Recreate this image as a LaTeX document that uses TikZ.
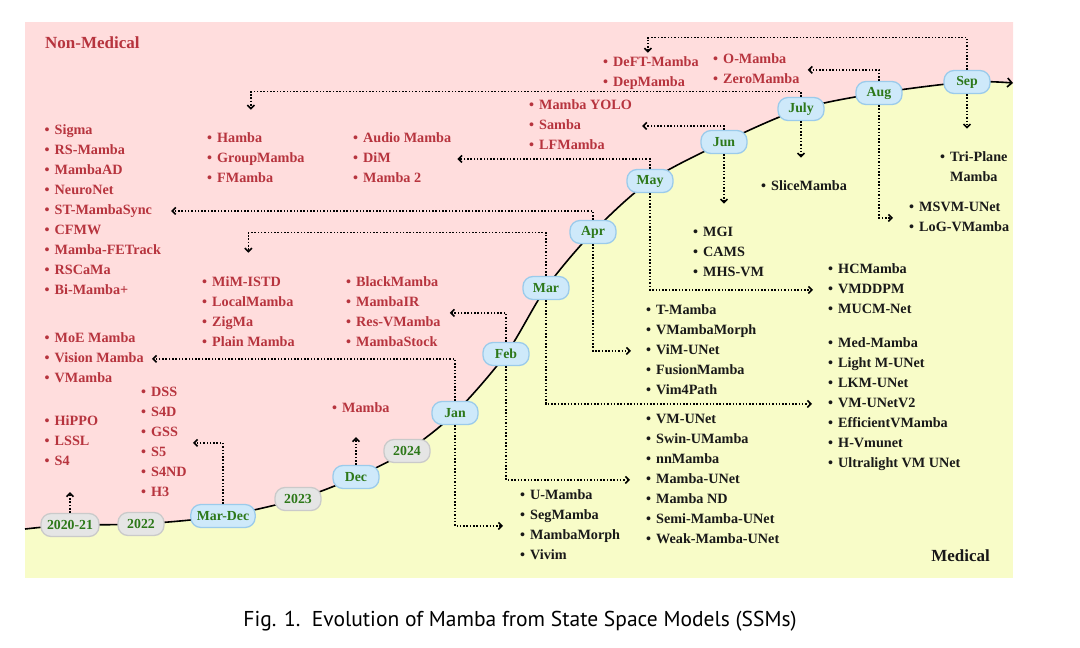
\documentclass[tikz,border=0pt]{standalone}
\usepackage{fontspec}
\setmainfont{Liberation Serif}
\newfontfamily\capfont{PT Sans}
\usetikzlibrary{arrows.meta}

\definecolor{pinkbg}{RGB}{255,221,221}
\definecolor{yellowbg}{RGB}{248,252,200}
\definecolor{nonmed}{RGB}{183,52,62}
\definecolor{medtxt}{RGB}{25,25,25}
\definecolor{monthtxt}{RGB}{45,120,25}
\definecolor{monthfill}{RGB}{206,233,250}
\definecolor{monthedge}{RGB}{155,203,235}
\definecolor{yearfill}{RGB}{229,229,229}
\definecolor{yearedge}{RGB}{202,202,202}

\newcommand{\itm}[1]{\strut\makebox[10pt][l]{\textbullet}#1}

\tikzset{
  pill/.style={rounded corners=10pt, minimum width=46pt, minimum height=23pt, inner xsep=6pt,
    line width=1.3pt, font=\bfseries\fontsize{13.8}{16}\selectfont, text=monthtxt},
  monthpill/.style={pill, fill=monthfill, draw=monthedge},
  yearpill/.style={pill, fill=yearfill, draw=yearedge},
  modellist/.style={anchor=north west, inner sep=0pt, align=left, font=\bfseries\fontsize{14.2}{20}\selectfont},
  nmlist/.style={modellist, text=nonmed},
  mdlist/.style={modellist, text=medtxt},
  conn/.style={line width=1.5pt, dash pattern=on 1.5pt off 1.8pt, -{Straight Barb[length=3.5pt,width=7pt,line width=1.6pt]}},
}

\begin{document}
\begin{tikzpicture}[x=1pt,y=-1pt]
\useasboundingbox (0,0) rectangle (1080,648);

% --- points of the timeline
\coordinate (c0) at (25,529);
\coordinate (p2021) at (70,525);
\coordinate (p2022) at (141,524);
\coordinate (pMarDec) at (223,516);
\coordinate (p2023) at (298,499);
\coordinate (pDec) at (356,477);
\coordinate (p2024) at (407,451);
\coordinate (pJan) at (455,413);
\coordinate (pFeb) at (506,354);
\coordinate (pMar) at (546,288);
\coordinate (pApr) at (593,232);
\coordinate (pMay) at (650,181);
\coordinate (pJun) at (724,142);
\coordinate (pJul) at (801,109);
\coordinate (pAug) at (879,93);
\coordinate (pSep) at (967,82);
\coordinate (cEnd) at (1013,83);

\fill[yellowbg] (25,22) rectangle (1013,578); % medical side
\fill[pinkbg] (25,22) -- plot[smooth] coordinates {(c0) (p2021) (p2022) (pMarDec) (p2023) (pDec) (p2024) (pJan) (pFeb) (pMar) (pApr) (pMay) (pJun) (pJul) (pAug) (pSep) (cEnd)} -- (1013,22) -- cycle; % non-medical side
\draw[line width=1.6pt,-{Straight Barb[length=4.5pt,width=9pt,line width=1.6pt]}] plot[smooth] coordinates {(c0) (p2021) (p2022) (pMarDec) (p2023) (pDec) (p2024) (pJan) (pFeb) (pMar) (pApr) (pMay) (pJun) (pJul) (pAug) (pSep) (cEnd)}; % --- timeline

% --- years and months
\node[yearpill] (t2021) at (p2021) {2020-21};
\node[yearpill] (t2022) at (p2022) {2022};
\node[monthpill] (mardec) at (pMarDec) {Mar-Dec};
\node[yearpill] (t2023) at (p2023) {2023};
\node[monthpill] (dec) at (pDec) {Dec};
\node[yearpill] (t2024) at (p2024) {2024};
\node[monthpill] (jan) at (pJan) {Jan};
\node[monthpill] (feb) at (pFeb) {Feb};
\node[monthpill] (mar) at (pMar) {Mar};
\node[monthpill] (apr) at (pApr) {Apr};
\node[monthpill] (may) at (pMay) {May};
\node[monthpill] (jun) at (pJun) {Jun};
\node[monthpill] (jul) at (pJul) {July};
\node[monthpill] (aug) at (pAug) {Aug};
\node[monthpill] (sep) at (pSep) {Sep};

% --- area titles
\node[anchor=west,inner sep=0pt,font=\bfseries\fontsize{17}{20}\selectfont,text=nonmed] (nmtitle) at (45,43) {Non-Medical};
\node[anchor=east,inner sep=0pt,font=\bfseries\fontsize{17}{20}\selectfont,text=medtxt] (mdtitle) at (990,556) {Medical};

% --- non-medical models
\node[nmlist] (hippo) at (44.5,411.7) {\itm{HiPPO}\\\itm{LSSL}\\\itm{S4}};
\node[nmlist] (ssm) at (141,382.7) {\itm{DSS}\\\itm{S4D}\\\itm{GSS}\\\itm{S5}\\\itm{S4ND}\\\itm{H3}};
\node[nmlist] (mamba) at (332,398.7) {\itm{Mamba}};
\node[nmlist] (moe) at (44.5,328.7) {\itm{MoE Mamba}\\\itm{Vision Mamba}\\\itm{VMamba}};
\node[nmlist] (mim) at (202,272.7) {\itm{MiM-ISTD}\\\itm{LocalMamba}\\\itm{ZigMa}\\\itm{Plain Mamba}};
\node[nmlist] (black) at (346,272.7) {\itm{BlackMamba}\\\itm{MambaIR}\\\itm{Res-VMamba}\\\itm{MambaStock}};
\node[nmlist] (sigma) at (44.5,120.7) {\itm{Sigma}\\\itm{RS-Mamba}\\\itm{MambaAD}\\\itm{NeuroNet}\\\itm{ST-MambaSync}\\\itm{CFMW}\\\itm{Mamba-FETrack}\\\itm{RSCaMa}\\\itm{Bi-Mamba+}};
\node[nmlist] (audio) at (353,128.7) {\itm{Audio Mamba}\\\itm{DiM}\\\itm{Mamba 2}};
\node[nmlist] (yolo) at (529,95.7) {\itm{Mamba YOLO}\\\itm{Samba}\\\itm{LFMamba}};
\node[nmlist] (hamba) at (207,128.7) {\itm{Hamba}\\\itm{GroupMamba}\\\itm{FMamba}};
\node[nmlist] (omamba) at (713,49.7) {\itm{O-Mamba}\\\itm{ZeroMamba}};
\node[nmlist] (deft) at (603,52.7) {\itm{DeFT-Mamba}\\\itm{DepMamba}};

% --- medical models
\node[mdlist] (umamba) at (520,485.7) {\itm{U-Mamba}\\\itm{SegMamba}\\\itm{MambaMorph}\\\itm{Vivim}};
\node[mdlist] (vmunet) at (646,409.7) {\itm{VM-UNet}\\\itm{Swin-UMamba}\\\itm{nnMamba}\\\itm{Mamba-UNet}\\\itm{Mamba ND}\\\itm{Semi-Mamba-UNet}\\\itm{Weak-Mamba-UNet}};
\node[mdlist] (medm) at (828,333.7) {\itm{Med-Mamba}\\\itm{Light M-UNet}\\\itm{LKM-UNet}\\\itm{VM-UNetV2}\\\itm{EfficientVMamba}\\\itm{H-Vmunet}\\\itm{Ultralight VM UNet}};
\node[mdlist] (tmamba) at (646,300.7) {\itm{T-Mamba}\\\itm{VMambaMorph}\\\itm{ViM-UNet}\\\itm{FusionMamba}\\\itm{Vim4Path}};
\node[mdlist] (hcm) at (828,259.7) {\itm{HCMamba}\\\itm{VMDDPM}\\\itm{MUCM-Net}};
\node[mdlist] (mgi) at (693,222.7) {\itm{MGI}\\\itm{CAMS}\\\itm{MHS-VM}};
\node[mdlist] (slice) at (761,176.7) {\itm{SliceMamba}};
\node[mdlist] (msvm) at (909,197.7) {\itm{MSVM-UNet}\\\itm{LoG-VMamba}};
\node[mdlist] (tri) at (940,147.7) {\itm{Tri-Plane}\\\strut\hspace{10pt}Mamba};

% --- links from the timeline
\draw[conn,shorten >=20pt] (t2021) -- (t2021 |- hippo.south);
\draw[conn,shorten >=6pt] (mardec) |- (ssm.east);
\draw[conn,shorten >=18pt] (dec) -- (dec |- mamba.south);
\draw[conn,shorten >=8pt] (jan) |- (moe.east);
\draw[conn,shorten >=17pt] (jan) |- (umamba.west);
\draw[conn,shorten >=9pt] (feb) |- (black.east);
\draw[conn,shorten >=16pt] (feb) |- (vmunet.west);
\draw[conn] (mar) |- ([yshift=40pt]mim.north) -- ([yshift=20pt]mim.north);
\draw[conn,shorten >=16pt] (mar) |- (medm.west);
\draw[conn,shorten >=10pt] (apr) |- (sigma.east);
\draw[conn,shorten >=15pt] (apr) |- (tmamba.west);
\draw[conn,shorten >=6pt] (may) |- (audio.east);
\draw[conn,shorten >=15pt] (may) |- (hcm.west);
\draw[conn,shorten >=10pt] (jun) |- (yolo.east);
\draw[conn,shorten >=19pt] (jun) -- (jun |- mgi.north);
\draw[conn] (jul) |- ([xshift=-5pt,yshift=37pt]hamba.north) -- ([xshift=-5pt,yshift=19pt]hamba.north);
\draw[conn,shorten >=19pt] (jul) -- (jul |- slice.north);
\draw[conn,shorten >=8pt] (aug) |- (omamba.east);
\draw[conn,shorten >=16pt] (aug) |- (msvm.west);
\draw[conn] (sep) |- ([xshift=-3pt,yshift=15pt]deft.north) -- ([xshift=-3pt]deft.north);
\draw[conn,shorten >=19pt] (sep) -- (sep |- tri.north);

% --- caption
\node[font=\capfont\fontsize{21.5}{24}\selectfont] (caption) at (520,621) {Fig. 1.\ \ Evolution of Mamba from State Space Models (SSMs)};
\end{tikzpicture}
\end{document}
